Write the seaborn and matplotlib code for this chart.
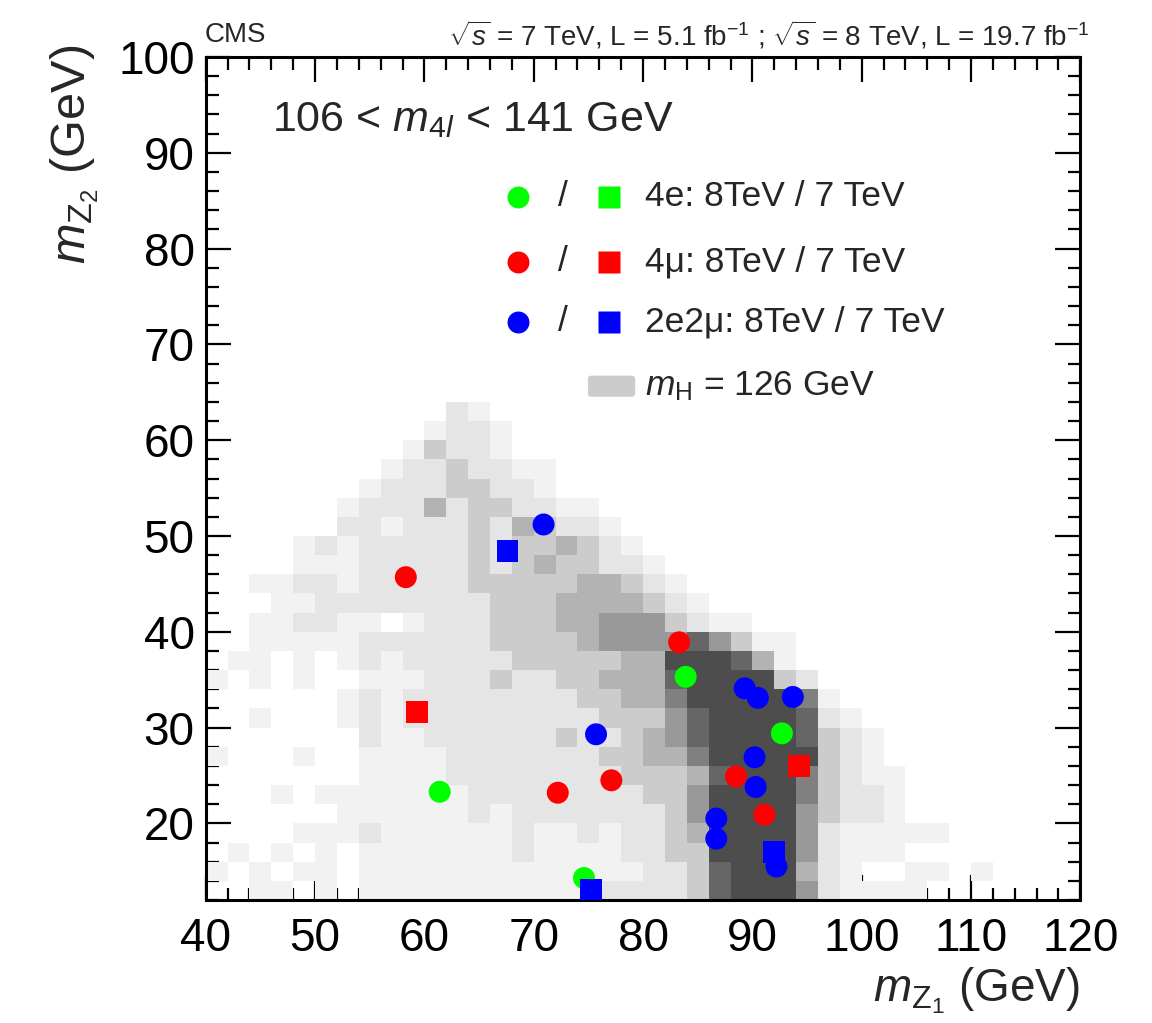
import numpy as np
import pandas as pd
import matplotlib
matplotlib.use("Agg")
import matplotlib.pyplot as plt
from matplotlib.colors import ListedColormap
from matplotlib.patches import FancyBboxPatch
from matplotlib.ticker import MultipleLocator
import seaborn as sns

# ---------------------------------------------------------------------------
# Observed four-lepton candidates, (m_Z1, m_Z2) in GeV
# ---------------------------------------------------------------------------
e4_8tev_mz1 = [83.9, 92.7, 61.4, 74.6]
e4_8tev_mz2 = [35.3, 29.4, 23.3, 14.3]
e4_7tev_mz1 = []
e4_7tev_mz2 = []
mu4_8tev_mz1 = [58.3, 83.3, 72.2, 77.1, 88.5, 91.1]
mu4_8tev_mz2 = [45.7, 38.9, 23.2, 24.5, 24.9, 20.9]
mu4_7tev_mz1 = [59.3, 94.3]
mu4_7tev_mz2 = [31.6, 26.0]
e2mu2_8tev_mz1 = [70.9, 75.7, 89.3, 90.5, 93.7, 90.2, 90.3, 86.7, 86.7, 92.2]
e2mu2_8tev_mz2 = [51.2, 29.3, 34.1, 33.1, 33.2, 26.9, 23.8, 20.5, 18.4, 15.5]
e2mu2_7tev_mz1 = [67.6, 75.2, 92.0]
e2mu2_7tev_mz2 = [48.4, 13.0, 17.0]

channel_colors = {"4e": "#00ff00", "4mu": "#ff0000", "2e2mu": "#0000ff"}
energy_markers = {"8 TeV": "o", "7 TeV": "s"}

# ---------------------------------------------------------------------------
# Expected m_H = 126 GeV signal density, 2 GeV x 2 GeV cells, shade level 0-8.
# One string per m_Z2 row (top row 62-64 GeV down to 12-14 GeV),
# one character per m_Z1 column starting at 40 GeV.
# ---------------------------------------------------------------------------
mz1_bin_edges = np.arange(40, 122, 2)
mz2_bin_edges = np.arange(12, 102, 2)
signal_rows = [
    "0000000000021",                           # 62
    "00000000001221",                          # 60
    "00000000013221",                          # 58
    "0000000012232211",                        # 56
    "0000000122233221",                        # 54
    "000000122242332211",                      # 52
    "0000002212223243221",                     # 50
    "00001212222232334321",                    # 48
    "000011122222323433221",                   # 46
    "0011221222223333344321",                  # 44
    "00011222222223334444321",                 # 42
    "0011221101222333445553211",               # 40
    "001111122222233334555575311",             # 38
    "011010121222223333344888741",             # 36
    "1010100111222322334447888832",            # 34
    "00000012122222222334468888861",           # 32
    "001000121222222222333578888721",          # 30
    "0000000211222222322345788887321",         # 28
    "1000100111122222223344688888321",         # 26
    "00000001111222222223334788863211",        # 24
    "00010111111122222222335888863221",        # 22
    "00000011111121222222235888853221",        # 20
    "0000111211111121121223488885211111",      # 18
    "01010101111111211112233888852111",        # 16
    "101011011111111111112237888421001101",    # 14
    "001101011111111111222237888521111",       # 12
]
shade_colors = ["#f2f2f2", "#e5e5e5", "#cccccc", "#b3b3b3",
                "#999999", "#808080", "#666666", "#4d4d4d"]

# ---------------------------------------------------------------------------
# Style
# ---------------------------------------------------------------------------
sns.set_theme(style="ticks")
plt.rcParams["font.family"] = ["Liberation Sans", "DejaVu Sans"]
plt.rcParams["mathtext.fontset"] = "custom"
plt.rcParams["mathtext.rm"] = "Liberation Sans"
plt.rcParams["mathtext.it"] = "Liberation Sans:italic"
plt.rcParams["mathtext.bf"] = "Liberation Sans:bold"
plt.rcParams["mathtext.sf"] = "Liberation Sans"

fig = plt.figure(figsize=(11.52, 10.23), dpi=100)
ax = fig.add_axes([0.1786, 0.1202, 0.7592, 0.8241])

# ---------------------------------------------------------------------------
# Signal map as a weighted 2D histogram
# ---------------------------------------------------------------------------
cell_x, cell_y, cell_w = [], [], []
n_cols = len(mz1_bin_edges) - 1
for j, row in enumerate(signal_rows[::-1]):
    for i, ch in enumerate(row.ljust(n_cols, "0")[:n_cols]):
        level = int(ch)
        if level > 0:
            cell_x.append(mz1_bin_edges[i] + 1.0)
            cell_y.append(mz2_bin_edges[j] + 1.0)
            cell_w.append(level)
signal = pd.DataFrame({"mZ1": cell_x, "mZ2": cell_y, "level": cell_w})

sns.histplot(data=signal, x="mZ1", y="mZ2", weights="level",
             bins=(mz1_bin_edges, mz2_bin_edges),
             cmap=ListedColormap(shade_colors), vmin=0.5, vmax=8.5,
             ax=ax, zorder=1)

# ---------------------------------------------------------------------------
# Candidate events
# ---------------------------------------------------------------------------
def block(mz1, mz2, channel, energy):
    return pd.DataFrame({"mZ1": mz1, "mZ2": mz2,
                         "channel": [channel] * len(mz1),
                         "energy": [energy] * len(mz1)})

events = pd.concat([
    block(e4_8tev_mz1, e4_8tev_mz2, "4e", "8 TeV"),
    block(e4_7tev_mz1, e4_7tev_mz2, "4e", "7 TeV"),
    block(mu4_8tev_mz1, mu4_8tev_mz2, "4mu", "8 TeV"),
    block(mu4_7tev_mz1, mu4_7tev_mz2, "4mu", "7 TeV"),
    block(e2mu2_8tev_mz1, e2mu2_8tev_mz2, "2e2mu", "8 TeV"),
    block(e2mu2_7tev_mz1, e2mu2_7tev_mz2, "2e2mu", "7 TeV"),
], ignore_index=True)

sns.scatterplot(data=events, x="mZ1", y="mZ2", hue="channel", style="energy",
                palette=channel_colors, markers=energy_markers,
                s=250, linewidth=0, legend=False, ax=ax, zorder=3)

# ---------------------------------------------------------------------------
# Axes
# ---------------------------------------------------------------------------
ax.set_xlim(40, 120)
ax.set_ylim(12, 100)
ax.set_xticks(np.arange(40, 121, 10))
ax.set_yticks(np.arange(20, 101, 10))
ax.xaxis.set_minor_locator(MultipleLocator(2))
ax.yaxis.set_minor_locator(MultipleLocator(2))
ax.tick_params(which="both", direction="in", top=True, right=True,
               width=1.6, color="black", labelcolor="black")
ax.tick_params(which="major", length=18, labelsize=33)
ax.tick_params(which="minor", length=9)
ax.tick_params(axis="x", which="major", pad=12)
ax.tick_params(axis="y", which="major", pad=8)
for sp in ax.spines.values():
    sp.set_linewidth(2.2)
    sp.set_color("black")
ax.grid(False)

ax.set_xlabel(r"$m_{\mathrm{Z}_{1}}$ (GeV)", fontsize=33, loc="right")
ax.xaxis.set_label_coords(1.0, -0.107)
ax.xaxis.label.set_va("center")
ax.set_ylabel(r"$m_{\mathrm{Z}_{2}}$ (GeV)", fontsize=35, loc="top")
ax.yaxis.set_label_coords(-0.150, 1.014)
ax.yaxis.label.set_va("center")

# ---------------------------------------------------------------------------
# Annotations and legend
# ---------------------------------------------------------------------------
fig.text(0.178, 0.966, "CMS", fontsize=20, ha="left", va="center")
fig.text(0.946, 0.966,
         r"$\sqrt{s}$ = 7 TeV, L = 5.1 fb$^{-1}$ ; $\sqrt{s}$ = 8 TeV, L = 19.7 fb$^{-1}$",
         fontsize=20, ha="right", va="center")

ax.text(0.076, 0.925, r"106 < $m_{4\mathit{l}}$ < 141 GeV", fontsize=31,
        ha="left", va="center", transform=ax.transAxes)

legend_entries = [("4e: 8TeV / 7 TeV", channel_colors["4e"], 0.834),
                  ("4μ: 8TeV / 7 TeV", channel_colors["4mu"], 0.757),
                  ("2e2μ: 8TeV / 7 TeV", channel_colors["2e2mu"], 0.686)]
for label, color, yy in legend_entries:
    ax.plot([0.357], [yy], marker="o", ms=15.8, color=color, mec="none",
            transform=ax.transAxes, clip_on=False, zorder=4)
    ax.text(0.4085, yy, "/", fontsize=25.5, ha="center", va="center",
            transform=ax.transAxes)
    ax.plot([0.461], [yy], marker="s", ms=15.8, color=color, mec="none",
            transform=ax.transAxes, clip_on=False, zorder=4)
    ax.text(0.502, yy, label, fontsize=25.5, ha="left", va="center",
            transform=ax.transAxes)

ax.add_patch(FancyBboxPatch((0.437, 0.597), 0.054, 0.025,
                            boxstyle="round,pad=0,rounding_size=0.004",
                            transform=ax.transAxes, facecolor="#cccccc",
                            edgecolor="none", zorder=4))
ax.text(0.502, 0.610, r"$m_{\mathrm{H}}$ = 126 GeV", fontsize=25.5,
        ha="left", va="center", transform=ax.transAxes)

fig.savefig("out.png", dpi=100)
